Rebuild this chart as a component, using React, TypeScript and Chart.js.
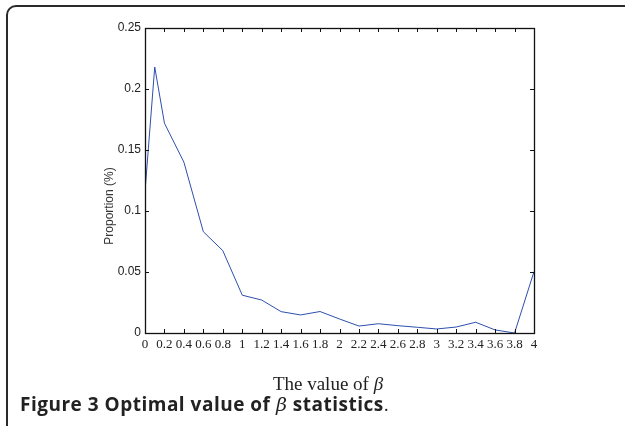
import React, { useEffect, useRef } from "react";
import { Chart, registerables } from "chart.js";

Chart.register(...registerables);

const betaValues = [0, 0.1, 0.2, 0.4, 0.6, 0.8, 1.0, 1.2, 1.4, 1.6, 1.8, 2.0, 2.2, 2.4, 2.6, 2.8, 3.0, 3.2, 3.4, 3.6, 3.8, 4.0];
const proportions = [0.116, 0.218, 0.172, 0.140, 0.083, 0.0675, 0.031, 0.027, 0.0175, 0.0148, 0.0176, 0.0115, 0.0057, 0.0076, 0.006, 0.0047, 0.0033, 0.0049, 0.0088, 0.0025, 0.0, 0.0503];

const xTickStep = 0.2;
const yTickStep = 0.05;
const yAxisLabel = "Proportion (%)";

const framePlugin = {
  id: "matlabFrame",
  afterDraw(chart: any) {
    const { ctx, chartArea } = chart;
    const { left, right, top, bottom } = chartArea;
    const xs = chart.scales.x;
    const ys = chart.scales.y;
    ctx.save();
    ctx.strokeStyle = "#111";
    ctx.lineWidth = 1;
    ctx.beginPath();
    const tl = 4;
    xs.ticks.forEach((t: any) => {
      const px = Math.round(xs.getPixelForValue(t.value)) + 0.5;
      ctx.moveTo(px, bottom);
      ctx.lineTo(px, bottom - tl);
      ctx.moveTo(px, top);
      ctx.lineTo(px, top + tl);
    });
    ys.ticks.forEach((t: any) => {
      const py = Math.round(ys.getPixelForValue(t.value)) + 0.5;
      ctx.moveTo(left, py);
      ctx.lineTo(left + tl, py);
      ctx.moveTo(right, py);
      ctx.lineTo(right - tl, py);
    });
    ctx.stroke();
    ctx.lineWidth = 1.3;
    ctx.strokeRect(Math.round(left) + 0.5, Math.round(top) + 0.5, Math.round(right - left), Math.round(bottom - top));
    // y-axis title
    ctx.translate(110, 206);
    ctx.rotate(-Math.PI / 2);
    ctx.fillStyle = "#333";
    ctx.font = "12px 'Liberation Sans', Arial, sans-serif";
    ctx.textAlign = "center";
    ctx.textBaseline = "middle";
    ctx.fillText(yAxisLabel, 0, 0);
    ctx.restore();
  },
};

function App() {
  const canvasRef = useRef<HTMLCanvasElement | null>(null);

  useEffect(() => {
    if (!canvasRef.current) return;
    const chart = new Chart(canvasRef.current, {
      type: "line",
      data: {
        datasets: [
          {
            data: betaValues.map((b, i) => ({ x: b, y: proportions[i] })),
            borderColor: "#2d4fae",
            borderWidth: 1,
            pointRadius: 0,
            tension: 0,
            fill: false,
          },
        ],
      },
      options: {
        animation: false,
        responsive: false,
        maintainAspectRatio: false,
        layout: { padding: { top: 28, right: 91, left: 0, bottom: 0 } },
        plugins: { legend: { display: false }, tooltip: { enabled: false }, title: { display: false } },
        scales: {
          x: {
            type: "linear",
            min: 0,
            max: 4,
            afterFit: (s: any) => {
              s.height = 93;
            },
            ticks: {
              stepSize: xTickStep,
              autoSkip: false,
              maxRotation: 0,
              minRotation: 0,
              padding: 4,
              color: "#222",
              font: { family: "'Liberation Serif', 'Times New Roman', serif", size: 13 },
              callback: (v: any) => String(+Number(v).toFixed(1)),
            },
            grid: { display: true, drawOnChartArea: false, drawTicks: false },
            border: { display: false },
          },
          y: {
            type: "linear",
            min: 0,
            max: 0.25,
            afterFit: (s: any) => {
              s.width = 145;
            },
            ticks: {
              stepSize: yTickStep,
              padding: 4,
              color: "#222",
              font: { family: "'Liberation Sans', Arial, sans-serif", size: 12 },
              callback: (v: any) => String(+Number(v).toFixed(2)),
            },
            grid: { display: true, drawOnChartArea: false, drawTicks: false },
            border: { display: false },
          },
        },
      },
      plugins: [framePlugin],
    });
    return () => chart.destroy();
  }, []);

  return (
    <div style={{ position: "fixed", left: 0, top: 0, width: 625, height: 426, overflow: "hidden", background: "#fff" }}>
      <div
        style={{
          position: "absolute",
          left: 6,
          top: 5,
          width: 640,
          height: 460,
          border: "2px solid #2a2a2a",
          borderRadius: 10,
          boxSizing: "border-box",
        }}
      />
      <canvas ref={canvasRef} width={625} height={426} style={{ position: "absolute", left: 0, top: 0, width: 625, height: 426 }} />
      <div
        style={{
          position: "absolute",
          left: 328,
          top: 374,
          transform: "translateX(-50%)",
          fontFamily: "'Liberation Serif', 'Times New Roman', serif",
          fontSize: 19,
          color: "#222",
          whiteSpace: "nowrap",
          lineHeight: 1,
        }}
      >
        The value of <i>β</i>
      </div>
      <div
        style={{
          position: "absolute",
          left: 20,
          top: 395,
          fontFamily: "'Open Sans', 'Noto Sans', sans-serif",
          fontWeight: 700,
          fontSize: 19,
          color: "#222",
          whiteSpace: "nowrap",
          lineHeight: 1,
          letterSpacing: 0.5,
        }}
      >
        Figure 3 Optimal value of <i style={{ fontFamily: "'DejaVu Serif', serif", fontWeight: 400 }}>β</i> statistics
        <span style={{ fontWeight: 400 }}>.</span>
      </div>
    </div>
  );
}

export default App;
